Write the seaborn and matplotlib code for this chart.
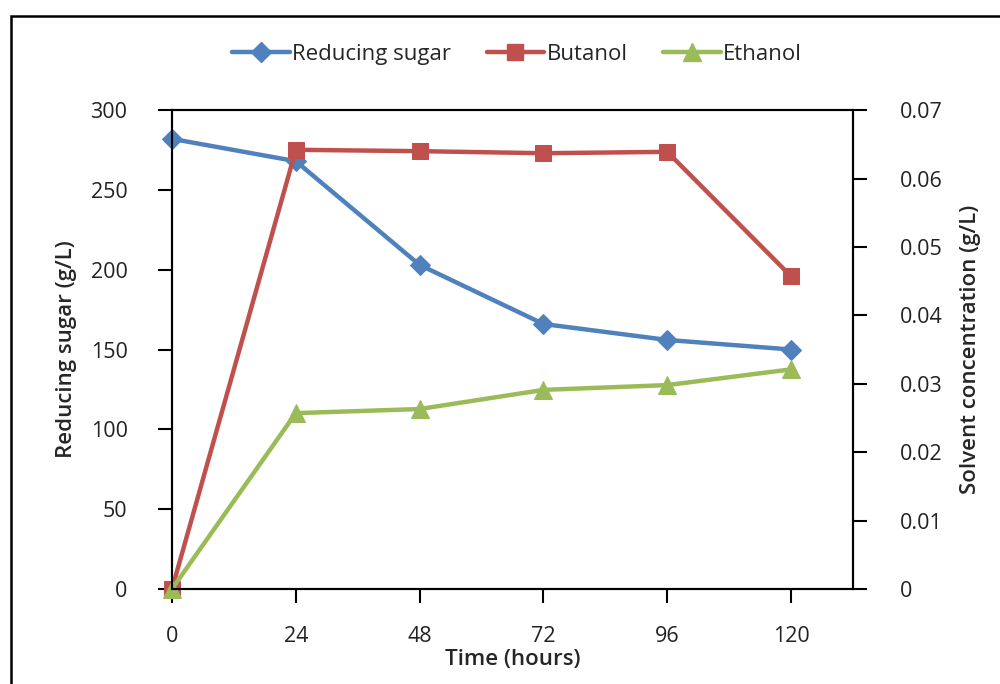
import seaborn as sns
import matplotlib.pyplot as plt
import pandas as pd
from matplotlib.lines import Line2D
from matplotlib.patches import Rectangle

sns.set_theme(style="white")
plt.rcParams['font.family'] = ['Open Sans', 'DejaVu Sans']

hours = [0, 24, 48, 72, 96, 120]
reducing_sugar = [282, 268, 203, 166, 156, 150]
butanol = [0, 0.0642, 0.0640, 0.0637, 0.0639, 0.0457]
ethanol = [0, 0.0257, 0.0263, 0.0291, 0.0298, 0.0321]

df = pd.DataFrame({"hours": hours, "sugar": reducing_sugar,
                   "butanol": butanol, "ethanol": ethanol})

blue, red, green = "#4F81BD", "#C0504D", "#9BBB59"

fig = plt.figure(figsize=(10, 6.84), dpi=100)
ax = fig.add_axes([0.172, 0.139, 0.681, 0.7])
ax2 = ax.twinx()

sns.lineplot(data=df, x="hours", y="sugar", ax=ax, color=blue, lw=3.2,
             marker="D", markersize=10, markeredgecolor=blue, clip_on=False)
sns.lineplot(data=df, x="hours", y="butanol", ax=ax2, color=red, lw=3.2,
             marker="s", markersize=12, markeredgecolor=red, clip_on=False)
sns.lineplot(data=df, x="hours", y="ethanol", ax=ax2, color=green, lw=3.2,
             marker="^", markersize=13, markeredgecolor=green, clip_on=False)

ax.set_xlim(0, 132)
ax.set_ylim(0, 300)
ax2.set_ylim(0, 0.07)
ax.set_xticks(hours)
ax.set_yticks(range(0, 301, 50))
ax2.set_yticks([0, 0.01, 0.02, 0.03, 0.04, 0.05, 0.06, 0.07])
ax2.set_yticklabels(["0", "0.01", "0.02", "0.03", "0.04", "0.05", "0.06", "0.07"])

for a in (ax, ax2):
    for s in a.spines.values():
        s.set_color("black")
        s.set_linewidth(1.5)
ax.tick_params(axis="y", direction="out", length=10, width=1.5, color="black",
               labelsize=15.5, pad=22, left=True, labelcolor="#222222")
ax.tick_params(axis="x", direction="out", length=10, width=1.5, color="black",
               labelsize=15.5, pad=17, bottom=True, labelcolor="#222222")
ax2.tick_params(axis="y", direction="out", length=10, width=1.5, color="black",
                labelsize=15.5, pad=24, right=True, labelcolor="#222222")

ax.set_xlabel("Time (hours)", fontsize=16, fontweight="semibold", labelpad=1)
ax.set_ylabel("Reducing sugar (g/L)", fontsize=16, fontweight="semibold", labelpad=10)
ax2.set_ylabel("Solvent concentration (g/L)", fontsize=16, fontweight="semibold", labelpad=12)

handles = [
    Line2D([], [], color=blue, lw=3.2, marker="D", markersize=10),
    Line2D([], [], color=red, lw=3.2, marker="s", markersize=12),
    Line2D([], [], color=green, lw=3.2, marker="^", markersize=13),
]
fig.legend(handles, ["Reducing sugar", "Butanol", "Ethanol"], loc="center",
           bbox_to_anchor=(0.517, 0.921), ncol=3, frameon=False, fontsize=16,
           handlelength=2.6, handletextpad=0.1, columnspacing=1.6)

fig.patches.append(Rectangle((0.011, -0.1), 1.2, 1.077, transform=fig.transFigure,
                             fill=False, edgecolor="black", lw=1.8))

fig.savefig("out.png", dpi=100)
